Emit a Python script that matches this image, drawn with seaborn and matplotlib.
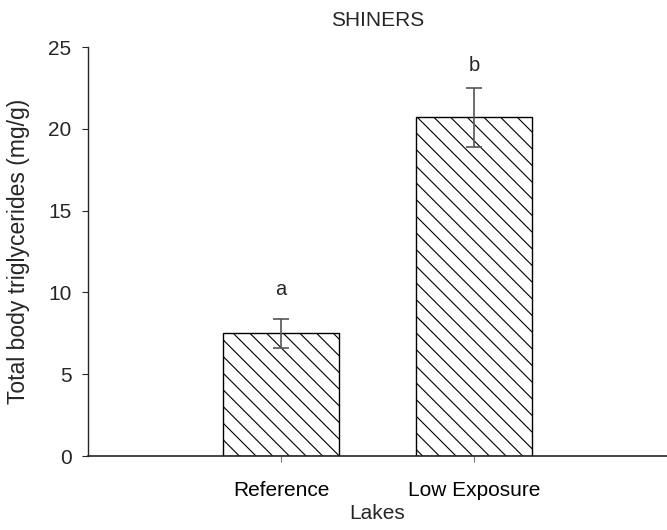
import numpy as np
import pandas as pd
import matplotlib
matplotlib.use("Agg")
import matplotlib.pyplot as plt
import seaborn as sns

# values
lakes = ["Reference", "Low Exposure"]
triglycerides = [7.5, 20.7]
sem = [0.9, 1.8]
letters = ["a", "b"]
letter_y = [9.6, 23.3]  # where the significance letters sit

sns.set_style("white")
plt.rcParams["font.family"] = ["Liberation Sans", "DejaVu Sans"]
plt.rcParams["hatch.linewidth"] = 0.8

df = pd.DataFrame({"Lakes": lakes, "tg": triglycerides})

fig = plt.figure(figsize=(6.67, 5.3), dpi=100)
ax = fig.add_axes([0.132, 0.1396, 0.868, 0.7717])

sns.barplot(data=df, x="Lakes", y="tg", ax=ax, color="white",
            edgecolor="black", linewidth=1.0, width=0.6, errorbar=None)
for bar in ax.patches:
    bar.set_hatch("\\\\")

x = np.arange(len(lakes))
ax.errorbar(x, triglycerides, yerr=sem, fmt="none", ecolor="#555555",
            elinewidth=1.2, capsize=6, capthick=1.2)

for xi, ly, lab in zip(x, letter_y, letters):
    ax.text(xi, ly, lab, ha="center", va="bottom", fontsize=14.5)

ax.set_xlim(-1, 2)
ax.set_ylim(0, 25)
ax.set_yticks([0, 5, 10, 15, 20, 25])
ax.set_title("SHINERS", fontsize=15, pad=15)
ax.set_xlabel("Lakes", fontsize=15, labelpad=3)
ax.set_ylabel("Total body triglycerides (mg/g)", fontsize=16.5)
ax.yaxis.set_label_coords(-0.1, 0.5)

sns.despine(ax=ax)
ax.spines["left"].set_linewidth(1.0)
ax.spines["bottom"].set_linewidth(1.2)
ax.tick_params(axis="y", direction="out", length=4, width=0.8, pad=8,
               labelsize=15, left=True)
ax.tick_params(axis="x", direction="out", length=4, width=0.8, pad=14,
               labelsize=15, bottom=True, colors="#777777",
               labelcolor="black")

fig.savefig("out.png", dpi=100)
